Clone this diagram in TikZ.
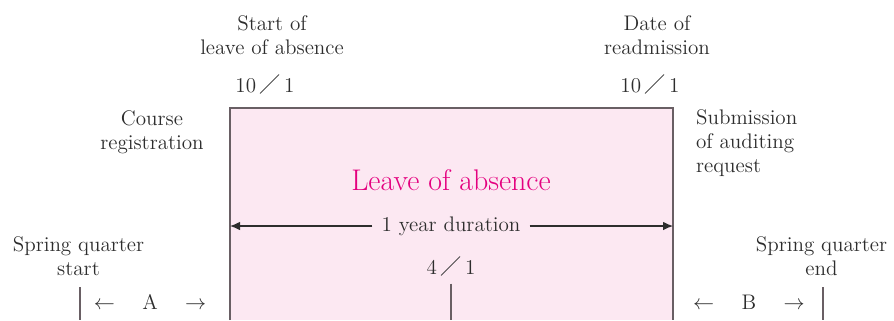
\documentclass[tikz,border=0pt]{standalone}
\usepackage{fontspec}
\newfontfamily\cjk{Noto Sans CJK JP}
\usetikzlibrary{arrows.meta,positioning}
\definecolor{leavepink}{RGB}{228,0,127}
\definecolor{leavefill}{RGB}{252,232,242}
\definecolor{edgegray}{RGB}{105,95,100}
\definecolor{textgray}{RGB}{45,45,45}
\newcommand{\dateof}[2]{#1\,{\cjk ／}\,#2}

\begin{document}
\begin{tikzpicture}[
				label/.style={
					align=center,
					text=textgray,
					font=\fontsize{12}{13.6}\selectfont,
					inner sep=1pt
				},
				boxline/.style={
					draw=edgegray,
					line width=0.9pt
				},
				durarrow/.style={
					-{Latex[length=2mm,width=1.7mm]},
					draw=textgray,
					line width=0.6pt
				},
				tickline/.style={
					draw=edgegray,
					line width=0.8pt
				}
				]
				
				\useasboundingbox (0,0) rectangle (17.88,6.4);
				
				% the leave of absence box, open at the bottom
				\coordinate (boxBL) at (4.6,0);
				\coordinate (boxTL) at (4.6,4.24);
				\coordinate (boxTR) at (13.46,4.24);
				\coordinate (boxBR) at (13.46,0);
				\fill[leavefill] (boxBL) rectangle (boxTR);
				\draw[boxline] (boxBL) -- (boxTL) -- (boxTR) -- (boxBR);
				
				\node[label, text=leavepink, font=\fontsize{17}{20}\selectfont] (leave) at (9.02,2.8) {Leave of absence};
				
				% one year duration
				\node[label, fill=leavefill, inner sep=5pt] (dur) at (9.02,1.88) {1 year duration};
				\coordinate (durL) at (4.6,1.88);
				\coordinate (durR) at (13.46,1.88);
				\draw[durarrow] (dur) -- (durL);
				\draw[durarrow] (dur) -- (durR);
				
				\node[label] (april) at (9.02,1.07) {\dateof{4}{1}};
				\coordinate (aprilB) at (9.02,0);
				\draw[tickline] ([yshift=-3pt]april.south) -- (aprilB);
				
				% dates above the box
				\node[label] (startof) at (5.44,5.7) {Start of\\leave of absence};
				\node[label] (startdate) at (5.3,4.72) {\dateof{10}{1}};
				\node[label] (dateof) at (13.14,5.7) {Date of\\readmission};
				\node[label] (readdate) at (13.0,4.72) {\dateof{10}{1}};
				
				% side notes
				\node[label] (course) at (3.04,3.76) {Course\\registration};
				\node[label, align=left, anchor=west] (audit) at (13.88,3.54) {Submission\\of auditing\\request};
				
				% spring quarter
				\node[label] (sqstart) at (1.57,1.27) {Spring quarter\\start};
				\coordinate (sqstartT) at (1.6,0.66);
				\coordinate (sqstartB) at (1.6,0);
				\draw[tickline] (sqstartT) -- (sqstartB);
				\node[label] (spanA) at (3.0,0.36) {$\leftarrow$\hspace{1.3em}A\hspace{1.3em}$\rightarrow$};
				
				\node[label] (sqend) at (16.43,1.27) {Spring quarter\\end};
				\coordinate (sqendT) at (16.46,0.66);
				\coordinate (sqendB) at (16.46,0);
				\draw[tickline] (sqendT) -- (sqendB);
				\node[label] (spanB) at (14.98,0.36) {$\leftarrow$\hspace{1.3em}B\hspace{1.3em}$\rightarrow$};
				
			\end{tikzpicture}
\end{document}
